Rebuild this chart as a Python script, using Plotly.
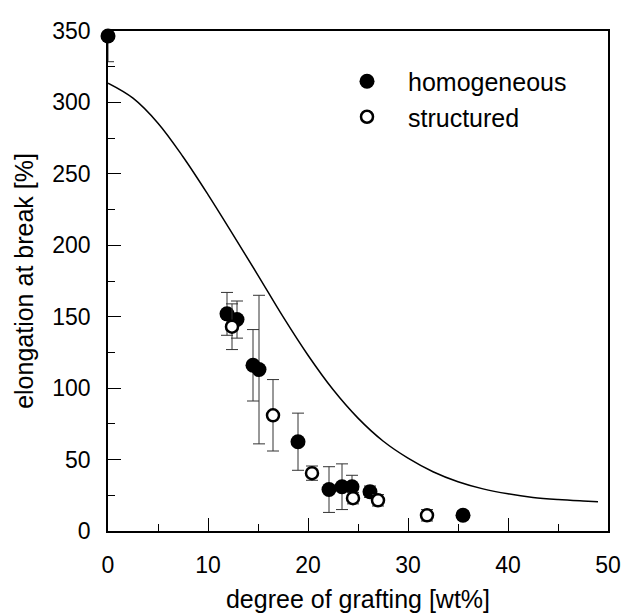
import plotly.graph_objects as go

# fitted/model curve
curve_x = [0, 2.5, 5, 7.5, 10, 12.5, 15, 17.5, 20, 22.5, 25, 27.5, 30, 32.5, 35, 37.5, 40, 42.5, 45, 47.5, 49]
curve_y = [313.5, 303, 285.5, 262, 235.5, 207.5, 179, 150, 123, 99, 79, 63, 51, 41.5, 34.5, 29.5, 26, 23.5, 22, 21, 20.5]

# homogeneous (filled)
hom_x = [0, 11.9, 12.9, 14.5, 15.1, 19.0, 22.1, 23.4, 24.4, 26.2, 35.5]
hom_y = [346.5, 152, 148, 116, 113, 62.5, 29, 31, 31, 27.5, 11]
hom_err = [18, 15, 13, 25, 52, 20, 16, 16, 8, 4, 3]

# structured (open)
str_x = [12.4, 16.5, 20.4, 24.5, 27.0, 31.9]
str_y = [143, 81, 40.5, 23, 21.5, 11]
str_err = [16, 25, 5, 4, 4, 4]

x_ticks = [0, 10, 20, 30, 40, 50]
y_ticks = [0, 50, 100, 150, 200, 250, 300, 350]

FONT = "Liberation Sans, Arial, sans-serif"

fig = go.Figure()
fig.add_trace(go.Scatter(x=curve_x, y=curve_y, mode="lines", line=dict(color="black", width=1.5, shape="spline"),
                         showlegend=False, hoverinfo="skip"))
fig.add_trace(go.Scatter(x=hom_x, y=hom_y, mode="markers", name="homogeneous",
                         marker=dict(symbol="circle", size=15, color="black", line=dict(width=0)),
                         error_y=dict(type="data", array=hom_err, color="#333", thickness=1, width=6),
                         cliponaxis=False))
fig.add_trace(go.Scatter(x=str_x, y=str_y, mode="markers", name="structured",
                         marker=dict(symbol="circle", size=12, color="white", line=dict(color="black", width=2.5)),
                         error_y=dict(type="data", array=str_err, color="#333", thickness=1, width=6),
                         cliponaxis=False))

axis_common = dict(showgrid=False, zeroline=False, showline=True, linecolor="black", linewidth=1.5,
                   mirror=True, ticks="inside", ticklen=13, tickwidth=1.2, tickcolor="black",
                   ticklabeloverflow="allow",
                   tickfont=dict(family=FONT, size=23, color="black"))

fig.update_xaxes(range=[0, 50], tickvals=x_ticks, ticktext=[str(v) for v in x_ticks],
                 minor=dict(ticks="inside", ticklen=7, dtick=5, tick0=0, tickcolor="black", tickwidth=1.2),
                 title=dict(text="degree of grafting [wt%]", font=dict(family=FONT, size=25, color="black"), standoff=18),
                 ticklabelstandoff=13, **axis_common)
fig.update_yaxes(range=[0, 350], tickvals=y_ticks, ticktext=[str(v) for v in y_ticks],
                 minor=dict(ticks="inside", ticklen=7, dtick=25, tick0=0, tickcolor="black", tickwidth=1.2),
                 title=dict(text="elongation at break [%]", font=dict(family=FONT, size=25, color="black"), standoff=12),
                 ticklabelstandoff=11, **axis_common)

fig.update_layout(
    width=624, height=613,
    margin=dict(l=108, r=16, t=31, b=82, autoexpand=False),
    paper_bgcolor="white", plot_bgcolor="white",
    font=dict(family=FONT, color="black"),
    legend=dict(x=0.436, y=0.945, xanchor="left", yanchor="top", bgcolor="rgba(0,0,0,0)",
                font=dict(family=FONT, size=25, color="black"), itemwidth=72, tracegroupgap=0),
)

# remove the page's default 8px body margin so the figure fills the window exactly
fig.write_html("out.html", config={"displayModeBar": False},
               post_script="document.body.style.margin='0';document.body.style.overflow='hidden';")
